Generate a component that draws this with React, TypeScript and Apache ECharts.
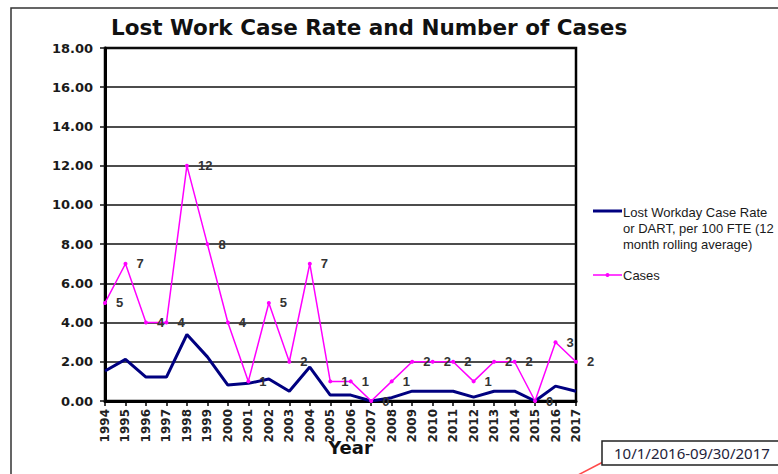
import React, { useEffect, useRef } from "react";
import * as echarts from "echarts";

const years = [
  "1994", "1995", "1996", "1997", "1998", "1999", "2000", "2001", "2002", "2003", "2004", "2005",
  "2006", "2007", "2008", "2009", "2010", "2011", "2012", "2013", "2014", "2015", "2016", "2017",
];
const rateValues = [
  1.53, 2.12, 1.22, 1.22, 3.39, 2.25, 0.81, 0.9, 1.12, 0.5, 1.73, 0.3,
  0.3, 0.0, 0.17, 0.5, 0.5, 0.5, 0.2, 0.5, 0.5, 0.0, 0.76, 0.5,
];
const caseValues = [5, 7, 4, 4, 12, 8, 4, 1, 5, 2, 7, 1, 1, 0, 1, 2, 2, 2, 1, 2, 2, 0, 3, 2];
const yMin = 0;
const yMax = 18;
const yStep = 2;

const titleText = "Lost Work Case Rate and Number of Cases";
const rateName = "Lost Workday Case Rate\nor DART, per 100 FTE (12\nmonth rolling average)";
const casesName = "Cases";
const periodText = "10/1/2016-09/30/2017";

export default function App() {
  const ref = useRef<HTMLDivElement>(null);
  useEffect(() => {
    document.body.style.margin = "0";
    if (!ref.current) return;
    const chart = echarts.init(ref.current, null, { renderer: "svg" });
    chart.setOption({
      animation: false,
      backgroundColor: "#ffffff",
      title: {
        text: titleText,
        left: 106,
        top: 11,
        textStyle: { fontFamily: "DejaVu Sans", fontWeight: "bold", fontSize: 21.5, color: "#111" },
      },
      grid: {
        left: 105,
        top: 48,
        right: 202,
        bottom: 73,
        show: true,
        borderColor: "#000",
        borderWidth: 2.5,
        backgroundColor: "transparent",
      },
      xAxis: {
        type: "category",
        data: years,
        boundaryGap: false,
        name: "Year",
        nameLocation: "middle",
        nameGap: 37,
        nameMoveOverlap: false,
        nameTextStyle: {
          fontFamily: "DejaVu Sans",
          fontWeight: "bold",
          fontSize: 18,
          color: "#111",
          padding: [0, 0, 0, 20],
        },
        axisLine: { lineStyle: { color: "#000", width: 3 } },
        axisTick: { show: true, length: 5, lineStyle: { color: "#000", width: 1.5 } },
        axisLabel: {
          rotate: 90,
          margin: 8,
          fontFamily: "DejaVu Sans",
          fontWeight: "bold",
          fontSize: 12,
          color: "#222",
        },
        splitLine: { show: false },
      },
      yAxis: {
        type: "value",
        min: yMin,
        max: yMax,
        interval: yStep,
        axisLine: { show: true, lineStyle: { color: "#000", width: 3 } },
        axisTick: { show: true, length: 5, lineStyle: { color: "#111", width: 1.5 } },
        axisLabel: {
          margin: 12,
          formatter: (v: number) => v.toFixed(2),
          fontFamily: "DejaVu Sans",
          fontWeight: "bold",
          fontSize: 13,
          color: "#1a1a1a",
        },
        splitLine: { show: true, lineStyle: { color: "#111", width: 1.5 } },
      },
      series: [
        {
          name: rateName,
          type: "line",
          data: rateValues,
          symbol: "none",
          lineStyle: { color: "#000080", width: 3 },
          itemStyle: { color: "#000080" },
          z: 2,
        },
        {
          name: casesName,
          type: "line",
          data: caseValues,
          symbol: "circle",
          symbolSize: 4,
          lineStyle: { color: "#ff00ff", width: 1.5 },
          itemStyle: { color: "#ff00ff" },
          label: {
            show: true,
            position: "right",
            distance: 9,
            fontFamily: "Liberation Sans",
            fontWeight: "bold",
            fontSize: 13,
            color: "#333",
          },
          z: 3,
        },
      ],
      graphic: [
        {
          type: "rect",
          shape: { x: 11, y: 8, width: 800, height: 500 },
          style: { fill: "none", stroke: "#333", lineWidth: 1.5 },
          silent: true,
          z: -1,
        },
        {
          type: "line",
          shape: { x1: 593, y1: 211, x2: 622, y2: 211 },
          style: { stroke: "#000080", lineWidth: 3 },
        },
        {
          type: "text",
          x: 623,
          y: 204,
          style: {
            text: rateName,
            font: "13px 'Liberation Sans'",
            fill: "#1a1a1a",
            lineHeight: 16,
            textVerticalAlign: "top",
          },
        },
        {
          type: "line",
          shape: { x1: 593, y1: 275, x2: 622, y2: 275 },
          style: { stroke: "#ff00ff", lineWidth: 1.5 },
        },
        {
          type: "circle",
          shape: { cx: 607.5, cy: 275, r: 2 },
          style: { fill: "#ff00ff" },
        },
        {
          type: "text",
          x: 623,
          y: 275,
          style: {
            text: casesName,
            font: "13px 'Liberation Sans'",
            fill: "#1a1a1a",
            textVerticalAlign: "middle",
          },
        },
        {
          type: "line",
          shape: { x1: 603, y1: 462, x2: 578, y2: 475 },
          style: { stroke: "#ff4a4a", lineWidth: 1.5 },
        },
        {
          type: "rect",
          shape: { x: 602, y: 441, width: 200, height: 24 },
          style: { fill: "#fff", stroke: "#222", lineWidth: 1.5 },
        },
        {
          type: "text",
          x: 614,
          y: 453,
          style: {
            text: periodText,
            font: "15px 'Noto Sans'",
            fill: "#23233a",
            textVerticalAlign: "middle",
          },
        },
      ],
    });
    return () => chart.dispose();
  }, []);
  return <div ref={ref} style={{ width: 778, height: 474 }} />;
}
